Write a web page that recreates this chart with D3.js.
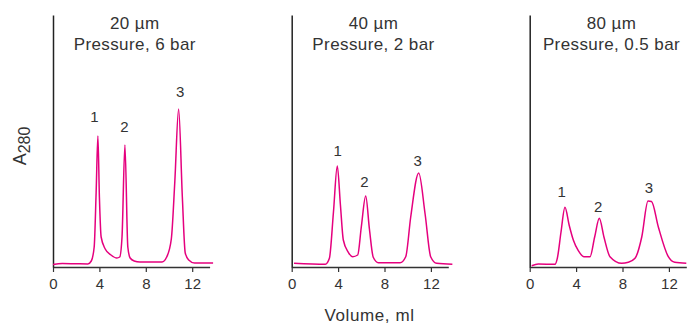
<!DOCTYPE html>
<html>
<head>
<meta charset="utf-8">
<script src="https://cdn.jsdelivr.net/npm/d3@7"></script>
<style>
  html, body { margin: 0; padding: 0; background: #fff; }
  svg { display: block; }
  text { font-family: "Liberation Sans", Arial, sans-serif; fill: #333; }
</style>
</head>
<body>
<svg id="chart" width="687" height="324"></svg>
<script>
// ---- data ----
const panelSizes = ["20 µm", "40 µm", "80 µm"];
const panelPressures = ["Pressure, 6 bar", "Pressure, 2 bar", "Pressure, 0.5 bar"];
const xTicks = [0, 4, 8, 12];
const peakNames = ["1", "2", "3"];

// volume (ml) and A280 (arbitrary units) for each chromatogram
const vol20 = [0, 0.8, 2.0, 3.0, 3.3, 3.55, 3.72, 3.87, 4.0, 4.15, 4.5, 5.0, 5.5, 5.75, 5.95, 6.2, 6.45, 6.65, 7.0, 7.5, 9.4, 9.8, 10.2, 10.5, 10.83, 11.15, 11.4, 11.7, 12.2, 13.8];
const abs20 = [2.5, 3.5, 3.2, 3, 6, 20, 75, 131, 70, 30, 18, 12, 9, 10, 30, 122, 20, 9, 6, 5, 5, 10, 28, 85, 158, 70, 14, 7, 4, 4];

const vol40 = [0.2, 2.9, 3.25, 3.6, 3.93, 4.2, 4.45, 4.88, 5.26, 5.69, 6.0, 6.38, 6.7, 7.03, 7.47, 9.34, 9.83, 10.26, 10.95, 11.5, 11.98, 12.5, 13.85];
const abs40 = [3.7, 2.7, 8.7, 55, 101, 62, 27, 14.7, 10.3, 12, 40, 71, 38, 9.7, 4.3, 4.3, 10.3, 50, 94, 53, 10.3, 3.7, 2.7];

const vol80 = [0.17, 0.74, 2.18, 2.38, 2.7, 3.04, 3.4, 3.76, 4.19, 4.68, 5.2, 5.6, 6.0, 6.4, 6.92, 7.93, 8.5, 9.08, 9.66, 10.2, 10.5, 11.09, 11.95, 12.5, 13.5];
const abs80 = [1.3, 3, 2.7, 8.7, 35, 59.7, 42, 27, 16.3, 10.3, 10.3, 30, 48.7, 30, 10.3, 3.7, 4.7, 8.7, 30, 66, 65.5, 40, 10.3, 4.7, 3.7];

// peak label positions (volume, A280)
const labelVol20 = [3.58, 6.16, 10.97];
const labelAbs20 = [145.3, 134.7, 169.7];
const labelVol40 = [3.97, 6.26, 10.86];
const labelAbs40 = [111, 79.7, 101.3];
const labelVol80 = [2.76, 5.91, 10.28];
const labelAbs80 = [70.3, 55, 73.7];

// ---- layout ----
const svg = d3.select("#chart");
const lineColor = "#e5007e";
const axisY0 = 267, axisTop = 15;
const panelX0 = [53, 291.7, 529.7];
const xMax = 13.5, pxPerMl = 11.6;

const series = [
  { size: panelSizes[0], pressure: panelPressures[0], vol: vol20, abs: abs20, lv: labelVol20, la: labelAbs20 },
  { size: panelSizes[1], pressure: panelPressures[1], vol: vol40, abs: abs40, lv: labelVol40, la: labelAbs40 },
  { size: panelSizes[2], pressure: panelPressures[2], vol: vol80, abs: abs80, lv: labelVol80, la: labelAbs80 }
];

const y = d3.scaleLinear().domain([0, axisY0 - axisTop]).range([axisY0, axisTop]);

series.forEach((s, i) => {
  const x0 = panelX0[i];
  const x = d3.scaleLinear().domain([0, xMax]).range([x0, x0 + xMax * pxPerMl]);
  const g = svg.append("g");

  // x axis
  const xa = g.append("g")
    .attr("transform", `translate(0,${axisY0})`)
    .call(d3.axisBottom(x).tickValues(xTicks).tickSize(5).tickSizeOuter(0).tickPadding(6));
  xa.select(".domain").attr("stroke", "#333").attr("stroke-width", 1.5);
  xa.selectAll(".tick line").attr("stroke", "#333").attr("stroke-width", 1.2);
  xa.selectAll(".tick text")
    .style("font-family", '"Liberation Sans", Arial, sans-serif')
    .style("font-size", "15px").attr("fill", "#333");

  // y axis (plain line)
  const ya = g.append("g")
    .attr("transform", `translate(${x0},0)`)
    .call(d3.axisLeft(y).tickValues([]).tickSizeOuter(0));
  ya.select(".domain").attr("stroke", "#222").attr("stroke-width", 1.5);

  // chromatogram
  const pts = s.vol.map((v, k) => [v, s.abs[k]]);
  const line = d3.line().x(d => x(d[0])).y(d => y(d[1])).curve(d3.curveMonotoneX);
  g.append("path").datum(pts)
    .attr("d", line)
    .attr("fill", "none")
    .attr("stroke", lineColor)
    .attr("stroke-width", 1.5);

  // peak labels
  peakNames.forEach((n, k) => {
    g.append("text")
      .attr("x", x(s.lv[k])).attr("y", y(s.la[k]))
      .attr("text-anchor", "middle")
      .style("font-size", "15px")
      .text(n);
  });

  // titles
  g.append("text").attr("x", x(7.05)).attr("y", 29)
    .attr("text-anchor", "middle").style("font-size", "17px").style("letter-spacing", "0.4px")
    .text(s.size);
  g.append("text").attr("x", x(7.05)).attr("y", 50)
    .attr("text-anchor", "middle").style("font-size", "17px").style("letter-spacing", "0.4px")
    .text(s.pressure);
});

// y-axis label A280
const yl = svg.append("text")
  .attr("transform", "translate(26,146) rotate(-90)")
  .attr("text-anchor", "middle")
  .style("font-size", "18px");
yl.append("tspan").text("A");
yl.append("tspan").attr("dy", 4).style("font-size", "16px").text("280");

// x-axis label
svg.append("text").attr("x", 369.5).attr("y", 321)
  .attr("text-anchor", "middle").style("font-size", "17px").style("letter-spacing", "0.6px")
  .text("Volume, ml");
</script>
</body>
</html>
